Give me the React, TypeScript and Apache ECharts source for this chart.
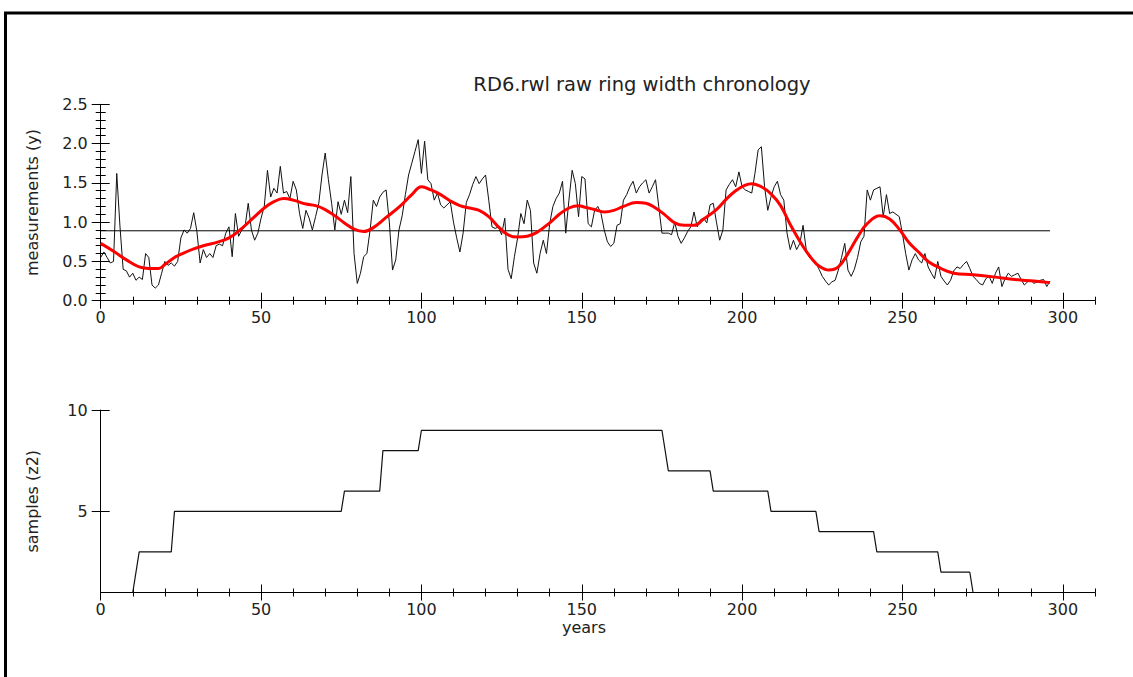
import React, { useEffect, useRef } from "react";
import * as echarts from "echarts";

// ---- Data ----
// raw ring widths, one value per year, years 0..296
const rawWidths: number[] = [
  0.55, 0.62, 0.55, 0.48, 0.5, 1.62, 0.95, 0.4, 0.38, 0.3,
  0.35, 0.26, 0.3, 0.27, 0.6, 0.55, 0.2, 0.16, 0.2, 0.35,
  0.5, 0.45, 0.48, 0.44, 0.5, 0.8, 0.9, 0.86, 0.92, 1.12,
  0.88, 0.48, 0.65, 0.55, 0.6, 0.55, 0.7, 0.72, 0.7, 0.86,
  0.94, 0.56, 1.11, 0.82, 0.9, 0.94, 1.24, 0.9, 0.77, 0.86,
  1.05, 1.2, 1.66, 1.32, 1.43, 1.37, 1.71, 1.37, 1.39, 1.3,
  1.52, 1.41, 1.11, 0.92, 1.15, 1.05, 0.9, 1.07, 1.24, 1.6,
  1.88, 1.54, 1.24, 0.9, 1.26, 1.1, 1.28, 1.12, 1.58, 0.6,
  0.22, 0.35, 0.56, 0.6, 0.9, 1.28, 1.2, 1.32, 1.38, 1.41,
  1.0, 0.39, 0.52, 0.9, 1.08, 1.35, 1.6, 1.75, 1.9, 2.05,
  1.62, 2.03, 1.54, 1.49, 1.28, 1.37, 1.22, 1.18, 1.22, 1.26,
  1.0, 0.8, 0.62, 0.86, 1.25, 1.35, 1.48, 1.58, 1.49, 1.55,
  1.6, 1.28, 0.94, 0.92, 0.94, 0.84, 1.05, 0.4, 0.28, 0.56,
  0.8, 1.11, 0.98, 1.28, 1.15, 0.48, 0.35, 0.6, 0.77, 0.6,
  0.98, 1.2, 1.3, 1.37, 1.52, 0.86, 1.28, 1.66, 1.49, 1.07,
  1.58, 1.55, 0.98, 0.94, 1.15, 1.2, 1.11, 0.9, 0.75, 0.69,
  0.73, 0.96, 0.98, 1.28, 1.35, 1.45, 1.52, 1.37, 1.45, 1.5,
  1.54, 1.37, 1.45, 1.54, 1.2, 0.86, 0.86, 0.86, 0.84, 1.0,
  0.82, 0.73, 0.8, 0.88, 0.94, 1.13, 0.94, 1.03, 1.05, 0.99,
  1.22, 1.24, 1.0, 0.77, 0.9, 1.41, 1.48, 1.54, 1.45, 1.64,
  1.45, 1.41, 1.39, 1.37, 1.62, 1.92, 1.96, 1.45, 1.15, 1.32,
  1.45, 1.52, 1.35, 1.28, 0.86, 0.65, 0.77, 0.65, 0.73, 0.96,
  0.65, 0.55, 0.52, 0.48, 0.4, 0.31, 0.25, 0.2, 0.24, 0.26,
  0.39, 0.55, 0.73, 0.39, 0.31, 0.4, 0.55, 0.75, 0.82, 1.41,
  1.28, 1.41, 1.43, 1.45, 1.07, 1.35, 1.11, 1.13, 1.1, 1.07,
  0.85, 0.6, 0.39, 0.52, 0.6, 0.52, 0.48, 0.6, 0.43, 0.35,
  0.28, 0.5, 0.31, 0.25, 0.2, 0.26, 0.38, 0.43, 0.41, 0.46,
  0.5, 0.41, 0.31, 0.27, 0.22, 0.2, 0.28, 0.31, 0.22, 0.35,
  0.43, 0.18, 0.28, 0.35, 0.31, 0.33, 0.35, 0.27, 0.2, 0.24,
  0.26, 0.22, 0.24, 0.26, 0.27, 0.18, 0.25,
];
const rawYears: number[] = rawWidths.map((_, i) => i);

// smoothing spline (red)
const splineYears: number[] = [
  0, 4, 8, 12, 15, 18, 20, 23, 26, 29, 32, 36, 40, 44, 48, 51, 54, 57, 60, 64,
  67, 70, 73, 76, 79, 82, 85, 89, 93, 97, 100, 103, 106, 109, 112, 115, 118,
  121, 124, 127, 130, 133, 136, 140, 143, 146, 149, 151, 154, 157, 160, 163,
  167, 170, 173, 176, 179, 182, 185, 188, 192, 195, 198, 201, 203, 206, 209,
  212, 215, 219, 222, 224, 227, 230, 233, 236, 239, 243, 246, 249, 252, 255,
  258, 262, 266, 272, 279, 285, 291, 296,
];
const splineValues: number[] = [
  0.73, 0.63, 0.52, 0.43, 0.41, 0.41, 0.46, 0.55, 0.61, 0.66, 0.7, 0.74, 0.8,
  0.92, 1.07, 1.18, 1.26, 1.3, 1.28, 1.23, 1.21, 1.16, 1.08, 0.99, 0.91, 0.88,
  0.93, 1.06, 1.19, 1.35, 1.45, 1.41, 1.35, 1.27, 1.21, 1.18, 1.15, 1.07, 0.94,
  0.84, 0.81, 0.82, 0.87, 0.99, 1.1, 1.18, 1.21, 1.19, 1.16, 1.13, 1.15, 1.2,
  1.25, 1.24, 1.18, 1.09, 0.99, 0.96, 0.96, 1.04, 1.16, 1.29, 1.4, 1.47, 1.49,
  1.45, 1.36, 1.21, 0.97, 0.69, 0.52, 0.44, 0.39, 0.43, 0.6, 0.81, 0.98, 1.08,
  1.04, 0.91, 0.74, 0.62, 0.5, 0.41, 0.35, 0.33, 0.3, 0.27, 0.25, 0.23,
];

// mean line
const meanWidth = 0.89;
const meanSpan: number[] = [0, 296];

// sample depth (z2), drawn as a polyline through these points
const sampleYears: number[] = [
  10, 12, 22, 23, 75, 76, 87, 88, 99, 100, 175, 177, 190, 191, 208, 209, 223,
  224, 241, 242, 261, 262, 271, 272,
];
const sampleCounts: number[] = [
  1, 3, 3, 5, 5, 6, 6, 8, 8, 9, 9, 7, 7, 6, 6, 5, 5, 4, 4, 3, 3, 2, 2, 1,
];

// tick labels
const xTickLabels: number[] = [0, 50, 100, 150, 200, 250, 300];
const topYTicks: number[] = [0, 0.5, 1.0, 1.5, 2.0, 2.5];
const bottomYTicks: number[] = [5, 10];

const FONT = "DejaVu Sans";
const TXT = "#222";

function xAxesFor(grid: number, showLabels: boolean) {
  const base = {
    type: "value",
    gridIndex: grid,
    position: "bottom",
    min: 0,
    max: 310,
    splitLine: { show: false },
  };
  const tickStyle = { color: "#000", width: 1 };
  return [
    {
      ...base,
      interval: 10,
      axisLine: { show: true, onZero: false, lineStyle: { color: "#000", width: 1 } },
      axisTick: { show: true, length: 4, lineStyle: tickStyle },
      axisLabel: {
        show: showLabels,
        customValues: xTickLabels,
        margin: 9,
        fontFamily: FONT,
        fontSize: 16,
        color: TXT,
      },
    },
    {
      ...base,
      interval: 10,
      axisLine: { show: false, onZero: false },
      axisTick: { show: true, inside: true, length: 4, lineStyle: tickStyle },
      axisLabel: { show: false },
    },
    {
      ...base,
      axisLine: { show: false, onZero: false },
      axisTick: { show: true, length: 8, customValues: xTickLabels, lineStyle: tickStyle },
      axisLabel: { show: false },
    },
    {
      ...base,
      axisLine: { show: false, onZero: false },
      axisTick: { show: true, inside: true, length: 8, customValues: xTickLabels, lineStyle: tickStyle },
      axisLabel: { show: false },
    },
  ];
}

export default function App() {
  const ref = useRef<HTMLDivElement>(null);

  useEffect(() => {
    if (!ref.current) return;
    const chart = echarts.init(ref.current, undefined, { renderer: "svg" });
    const tickStyle = { color: "#000", width: 1 };

    const option = {
      animation: false,
      backgroundColor: "#fff",
      grid: [
        { left: 100.7, top: 104.3, width: 994.2, height: 196.4 },
        { left: 100.7, top: 410, width: 994.2, height: 182.5 },
      ],
      xAxis: [...xAxesFor(0, true), ...xAxesFor(1, true)],
      yAxis: [
        {
          type: "value",
          gridIndex: 0,
          position: "left",
          min: 0,
          max: 2.5,
          interval: 0.5,
          name: "measurements (y)",
          nameLocation: "middle",
          nameGap: 60,
          nameTextStyle: { fontFamily: FONT, fontSize: 16, color: TXT },
          axisLine: { show: true, onZero: false, lineStyle: { color: "#000", width: 1 } },
          axisTick: { show: true, length: 9, lineStyle: tickStyle },
          minorTick: { show: true, splitNumber: 5, length: 5, lineStyle: tickStyle },
          axisLabel: {
            show: true,
            customValues: topYTicks,
            margin: 13,
            fontFamily: FONT,
            fontSize: 16,
            color: TXT,
            formatter: (v: number) => v.toFixed(1),
          },
          splitLine: { show: false },
        },
        {
          type: "value",
          gridIndex: 0,
          position: "left",
          min: 0,
          max: 2.5,
          interval: 0.5,
          axisLine: { show: false, onZero: false },
          axisTick: { show: true, inside: true, length: 9, lineStyle: tickStyle },
          minorTick: { show: true, splitNumber: 5, length: 5, lineStyle: tickStyle },
          axisLabel: { show: false },
          splitLine: { show: false },
        },
        {
          type: "value",
          gridIndex: 1,
          position: "left",
          min: 1,
          max: 10,
          name: "samples (z2)",
          nameLocation: "middle",
          nameGap: 60,
          nameTextStyle: { fontFamily: FONT, fontSize: 16, color: TXT },
          axisLine: { show: true, onZero: false, lineStyle: { color: "#000", width: 1 } },
          axisTick: { show: true, length: 9, customValues: bottomYTicks, lineStyle: tickStyle },
          axisLabel: {
            show: true,
            customValues: bottomYTicks,
            margin: 13,
            fontFamily: FONT,
            fontSize: 16,
            color: TXT,
          },
          splitLine: { show: false },
        },
        {
          type: "value",
          gridIndex: 1,
          position: "left",
          min: 1,
          max: 10,
          axisLine: { show: false, onZero: false },
          axisTick: { show: true, inside: true, length: 9, customValues: bottomYTicks, lineStyle: tickStyle },
          axisLabel: { show: false },
          splitLine: { show: false },
        },
      ],
      series: [
        {
          name: "raw",
          type: "line",
          xAxisIndex: 0,
          yAxisIndex: 0,
          data: rawYears.map((y, i) => [y, rawWidths[i]]),
          showSymbol: false,
          symbol: "none",
          lineStyle: { color: "#111", width: 1 },
          z: 2,
        },
        {
          name: "mean",
          type: "line",
          xAxisIndex: 0,
          yAxisIndex: 0,
          data: meanSpan.map((y) => [y, meanWidth]),
          showSymbol: false,
          symbol: "none",
          lineStyle: { color: "#000", width: 1 },
          z: 3,
        },
        {
          name: "spline",
          type: "line",
          xAxisIndex: 0,
          yAxisIndex: 0,
          data: splineYears.map((y, i) => [y, splineValues[i]]),
          smooth: 0.4,
          showSymbol: false,
          symbol: "none",
          lineStyle: { color: "#ff0000", width: 3 },
          z: 4,
        },
        {
          name: "samples",
          type: "line",
          xAxisIndex: 4,
          yAxisIndex: 2,
          data: sampleYears.map((y, i) => [y, sampleCounts[i]]),
          showSymbol: false,
          symbol: "none",
          lineStyle: { color: "#111", width: 1.2 },
          z: 2,
        },
      ],
      graphic: [
        {
          type: "line",
          shape: { x1: 4, y1: 13, x2: 1133, y2: 13 },
          style: { stroke: "#000", lineWidth: 3 },
          silent: true,
        },
        {
          type: "line",
          shape: { x1: 5.5, y1: 12, x2: 5.5, y2: 677 },
          style: { stroke: "#000", lineWidth: 3 },
          silent: true,
        },
        {
          type: "text",
          x: 642,
          y: 84,
          style: {
            text: "RD6.rwl raw ring width chronology",
            fontFamily: FONT,
            fontSize: 19.5,
            fill: TXT,
            align: "center",
            verticalAlign: "middle",
          },
          silent: true,
        },
        {
          type: "text",
          x: 584,
          y: 627,
          style: {
            text: "years",
            fontFamily: FONT,
            fontSize: 16,
            fill: TXT,
            align: "center",
            verticalAlign: "middle",
          },
          silent: true,
        },
      ],
    };

    chart.setOption(option as any);
    return () => {
      chart.dispose();
    };
  }, []);

  return (
    <div
      ref={ref}
      style={{ position: "fixed", left: 0, top: 0, width: 1133, height: 677, background: "#fff" }}
    />
  );
}
